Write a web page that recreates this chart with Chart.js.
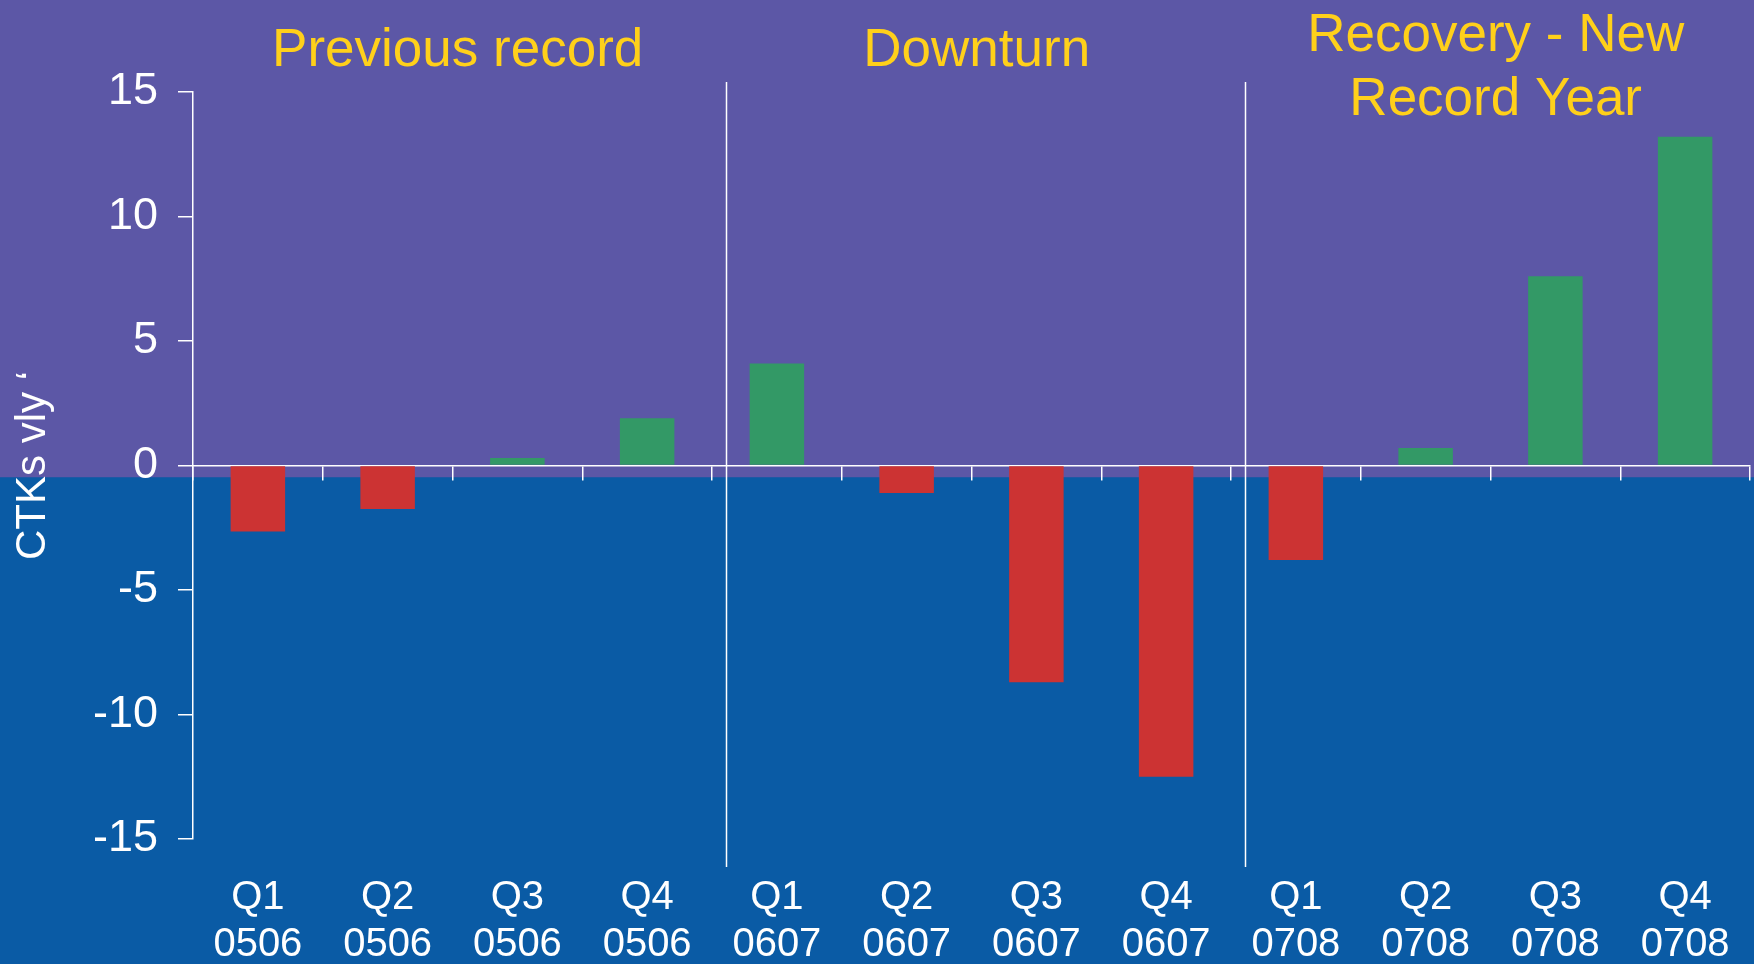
<!DOCTYPE html>
<html>
<head>
<meta charset="utf-8">
<script src="https://cdn.jsdelivr.net/npm/chart.js@4/dist/chart.umd.min.js"></script>
<style>
  html, body { margin: 0; padding: 0; background: #0a5ba5; }
  #wrap { width: 1754px; height: 964px; position: relative; }
</style>
</head>
<body>
<div id="wrap"><canvas id="barChart"></canvas></div>
<script>
const quarters = ['Q1', 'Q2', 'Q3', 'Q4', 'Q1', 'Q2', 'Q3', 'Q4', 'Q1', 'Q2', 'Q3', 'Q4'];
const years = ['0506', '0506', '0506', '0506', '0607', '0607', '0607', '0607', '0708', '0708', '0708', '0708'];
const ctkChange = [-2.65, -1.75, 0.3, 1.9, 4.1, -1.1, -8.7, -12.5, -3.8, 0.7, 7.6, 13.2];
const sectionTitles = [['Previous record'], ['Downturn'], ['Recovery - New', 'Record Year']];
const sectionStarts = [0, 4, 8];
const yMin = -15, yMax = 15, yStep = 5;

const WHITE = '#ffffff';
const FONT = '"Liberation Sans", Arial, sans-serif';
Chart.defaults.font.family = FONT;

const labels = quarters.map((q, i) => [q, years[i]]);

// slide background: purple above, blue below (just under the zero line)
const slideBackground = {
  id: 'slideBackground',
  beforeDraw(chart) {
    const {ctx, width, height} = chart;
    const split = chart.scales.y.getPixelForValue(0) + 12;
    ctx.save();
    ctx.fillStyle = '#5c57a6';
    ctx.fillRect(0, 0, width, split);
    ctx.fillStyle = '#0a5ba5';
    ctx.fillRect(0, split, width, height - split);
    ctx.restore();
  }
};

// section separators + yellow section headings
const sections = {
  id: 'sections',
  afterDraw(chart) {
    const {ctx, chartArea} = chart;
    const x = chart.scales.x;
    ctx.save();
    ctx.strokeStyle = WHITE;
    ctx.lineWidth = 1.5;
    sectionStarts.slice(1).forEach(s => {
      const px = Math.round(x.getPixelForValue(s - 0.39)) + 0.5;
      ctx.beginPath();
      ctx.moveTo(px, chartArea.top - 10);
      ctx.lineTo(px, chartArea.bottom + 28);
      ctx.stroke();
    });

    ctx.fillStyle = '#ffd01a';
    ctx.font = '53px ' + FONT;
    ctx.textAlign = 'center';
    ctx.textBaseline = 'alphabetic';
    sectionTitles.forEach((lines, i) => {
      const start = sectionStarts[i];
      const end = i + 1 < sectionStarts.length ? sectionStarts[i + 1] - 1 : quarters.length - 1;
      const cx = x.getPixelForValue((start + end) / 2 + 0.04);
      if (lines.length === 1) {
        ctx.fillText(lines[0], cx, 66);
      } else {
        lines.forEach((t, k) => ctx.fillText(t, cx, 51 + k * 64));
      }
    });
    ctx.restore();
  }
};

new Chart(document.getElementById('barChart'), {
  type: 'bar',
  data: {
    labels: labels,
    datasets: [{
      label: 'CTKs vly',
      data: ctkChange,
      backgroundColor: ctkChange.map(v => v < 0 ? '#cc3333' : '#339966'),
      borderWidth: 0,
      barPercentage: 0.42,
      categoryPercentage: 1,
      xAxisID: 'x',
      yAxisID: 'y'
    }]
  },
  options: {
    responsive: true,
    maintainAspectRatio: false,
    animation: false,
    layout: { padding: { top: 92, right: 4, bottom: 0, left: 0 } },
    plugins: {
      legend: { display: false },
      tooltip: { enabled: false }
    },
    scales: {
      x: {
        type: 'category',
        position: { y: 0 },
        offset: true,
        z: 1,
        grid: {
          offset: true,
          drawOnChartArea: false,
          drawTicks: true,
          tickLength: 14,
          color: WHITE,
          lineWidth: 1.5
        },
        border: { display: true, color: WHITE, width: 1.5 },
        ticks: { display: false }
      },
      x2: {
        type: 'category',
        position: 'bottom',
        labels: labels,
        offset: true,
        grid: { display: false, drawTicks: false, offset: true },
        border: { display: false },
        ticks: {
          color: WHITE,
          padding: 35,
          maxRotation: 0,
          autoSkip: false,
          font: { size: 40, lineHeight: 47 / 40 }
        },
        afterFit(scale) {
          scale.height = 125;
          scale.paddingLeft = 0;
          scale.paddingRight = 0;
        }
      },
      y: {
        min: yMin,
        max: yMax,
        ticks: {
          stepSize: yStep,
          color: WHITE,
          padding: 20,
          font: { size: 45 }
        },
        grid: {
          drawOnChartArea: false,
          drawTicks: true,
          tickLength: 15,
          color: WHITE,
          lineWidth: 1.5
        },
        border: { display: true, color: WHITE, width: 1.5 },
        title: {
          display: true,
          text: 'CTKs vly ‘',
          color: WHITE,
          padding: { top: 8, bottom: 0 },
          font: { size: 42 }
        },
        afterFit(scale) { scale.width = 193; }
      }
    }
  },
  plugins: [slideBackground, sections]
});
</script>
</body>
</html>
